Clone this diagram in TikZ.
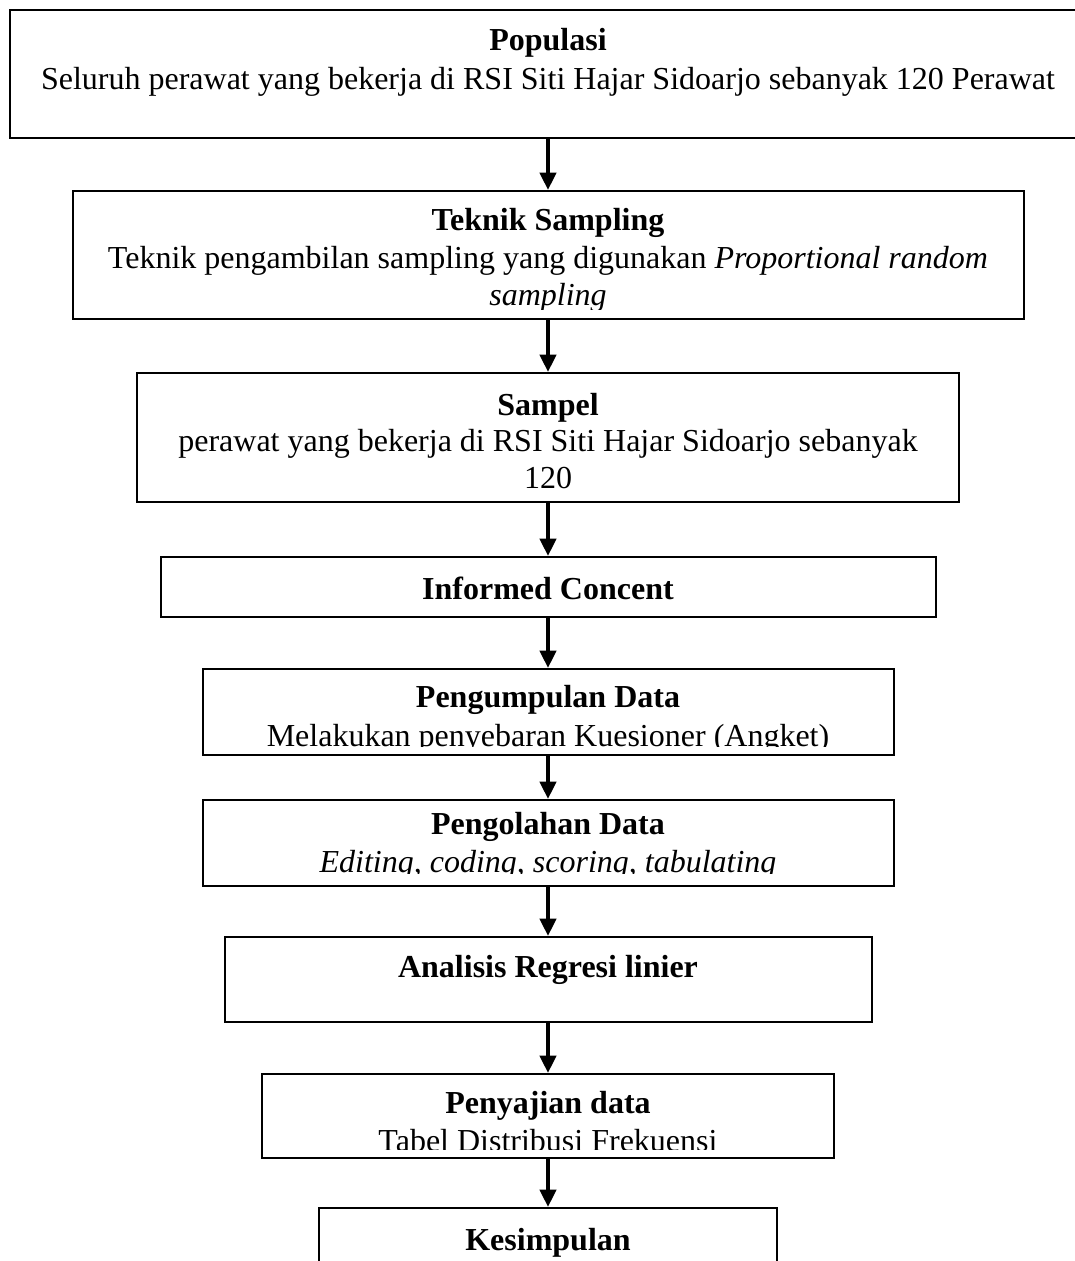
\documentclass[tikz,border=0pt]{standalone}
\usepackage{fontspec}
\setmainfont{Liberation Serif}
\usetikzlibrary{arrows.meta}

\def\px{0.375pt}
\tikzset{
  kotak/.style={draw, line width=0.75pt, inner sep=0pt},
  panah/.style={-{Triangle[width=6pt,length=6.5pt]}, line width=1.5pt},
  teks/.style={anchor=base, inner sep=0pt, font=\fontsize{12}{13.8}\selectfont},
  judul/.style={teks, font=\fontsize{12}{13.8}\selectfont\bfseries}
}

\begin{document}
\begin{tikzpicture}[x=\px, y=-\px]
  \useasboundingbox (0,0) rectangle (1074,1261);
  % kotak-kotak alur
  \node[kotak, minimum width=1077*\px, minimum height=128*\px] (pop) at (548,74) {};
  \node[kotak, minimum width=951*\px, minimum height=128*\px] (teknik) at (548,255) {};
  \node[kotak, minimum width=822*\px, minimum height=129*\px] (sampel) at (548,437.5) {};
  \node[kotak, minimum width=775*\px, minimum height=60*\px] (ic) at (548,587) {};
  \node[kotak, minimum width=691*\px, minimum height=86*\px] (kumpul) at (548,712) {};
  \node[kotak, minimum width=691*\px, minimum height=86*\px] (olah) at (548,843) {};
  \node[kotak, minimum width=647*\px, minimum height=85*\px] (analisis) at (548,979.5) {};
  \node[kotak, minimum width=572*\px, minimum height=84*\px] (saji) at (548,1116) {};
  \node[kotak, minimum width=458*\px, minimum height=92*\px] (simpul) at (548,1254) {};

  % isi teks
  \node[judul] (pop-j) at (548,50) {Populasi};
  \node[teks] (pop-t) at (548,89) {Seluruh perawat yang bekerja di RSI Siti Hajar Sidoarjo sebanyak 120 Perawat};

  \begin{scope}
    \clip (teknik.north west) rectangle ([yshift=11*\px]teknik.south east);
    \node[judul] (teknik-j) at (548,230) {Teknik Sampling};
    \node[teks] (teknik-t1) at (548,268) {Teknik pengambilan sampling yang digunakan \textit{Proportional random}};
    \node[teks] (teknik-t2) at (548,305) {\textit{sampling}};
  \end{scope}

  \node[judul] (sampel-j) at (548,415) {Sampel};
  \node[teks] (sampel-t1) at (548,451) {perawat yang bekerja di RSI Siti Hajar Sidoarjo sebanyak};
  \node[teks] (sampel-t2) at (548,488) {120};

  \node[judul] (ic-j) at (548,599) {Informed Concent};

  \begin{scope}
    \clip (kumpul.north west) rectangle ([yshift=10*\px]kumpul.south east);
    \node[judul] (kumpul-j) at (548,707) {Pengumpulan Data};
    \node[teks] (kumpul-t) at (548,746) {Melakukan penyebaran Kuesioner (Angket)};
  \end{scope}

  \begin{scope}
    \clip (olah.north west) rectangle ([yshift=14*\px]olah.south east);
    \node[judul] (olah-j) at (548,834) {Pengolahan Data};
    \node[teks] (olah-t) at (548,872) {\textit{Editing, coding, scoring, tabulating}};
  \end{scope}

  \node[judul] (analisis-j) at (548,977) {Analisis Regresi linier};

  \begin{scope}
    \clip (saji.north west) rectangle ([yshift=10*\px]saji.south east);
    \node[judul] (saji-j) at (548,1113) {Penyajian data};
    \node[teks] (saji-t) at (548,1151) {Tabel Distribusi Frekuensi};
  \end{scope}

  \node[judul] (simpul-j) at (548,1250) {Kesimpulan};

  % panah
  \draw[panah] (pop) -- (teknik);
  \draw[panah] (teknik) -- (sampel);
  \draw[panah] (sampel) -- (ic);
  \draw[panah] (ic) -- (kumpul);
  \draw[panah] (kumpul) -- (olah);
  \draw[panah] (olah) -- (analisis);
  \draw[panah] (analisis) -- (saji);
  \draw[panah] (saji) -- (simpul);
\end{tikzpicture}
\end{document}
